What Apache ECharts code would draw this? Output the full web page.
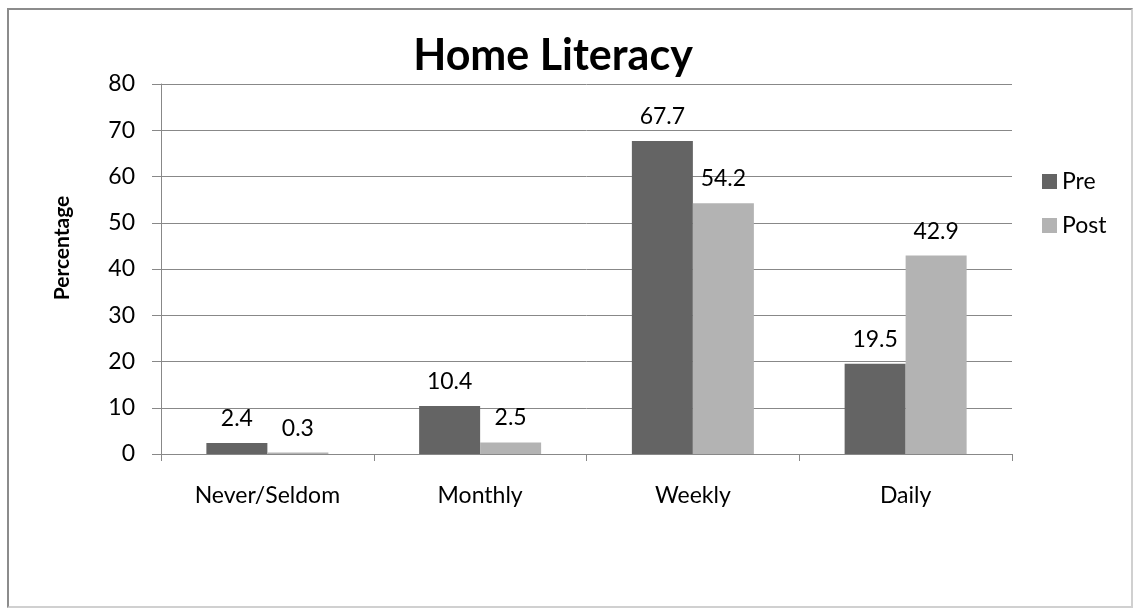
<!DOCTYPE html>
<html>
<head>
<meta charset="utf-8">
<script src="https://cdn.jsdelivr.net/npm/echarts@6/dist/echarts.min.js"></script>
<style>
  html, body { margin: 0; padding: 0; background: #fff; }
  #frame { position: absolute; left: 7px; top: 8px; width: 1122px; height: 596px; border: 2px solid #8c8c8c; border-right-color: #d0d0d0; border-bottom-color: #d0d0d0; }
  #chart { position: absolute; left: 0; top: 0; width: 1133px; height: 608px; }
</style>
</head>
<body>
<div id="frame"></div>
<div id="chart"></div>
<script>
// 数据
const categories = ['Never/Seldom', 'Monthly', 'Weekly', 'Daily'];
const preValues = [2.4, 10.4, 67.7, 19.5];
const postValues = [0.3, 2.5, 54.2, 42.9];
const yTicks = [0, 80, 10]; // min, max, interval

const chart = echarts.init(document.getElementById('chart'));
const font = 'Lato, "Open Sans", sans-serif';
const labelStyle = { show: true, position: 'top', distance: 13, color: '#000', fontSize: 23, fontFamily: font };

chart.setOption({
  animation: false,
  title: {
    text: 'Home Literacy',
    left: 548, top: 30, textAlign: 'center',
    textStyle: { fontSize: 43, fontWeight: 'bold', color: '#000', fontFamily: font }
  },
  legend: {
    orient: 'vertical',
    left: 1037, top: 165,
    itemWidth: 15, itemHeight: 15, itemGap: 21,
    icon: 'rect',
    textStyle: { fontSize: 23, color: '#000', fontFamily: font }
  },
  grid: { left: 161, right: 121, top: 84, bottom: 154, containLabel: false },
  xAxis: {
    type: 'category',
    data: categories,
    axisLine: { lineStyle: { color: '#888', width: 1 } },
    axisTick: { show: true, length: 7, lineStyle: { color: '#888' } },
    axisLabel: { margin: 30, fontSize: 23, color: '#000', fontFamily: font }
  },
  yAxis: {
    type: 'value',
    min: yTicks[0], max: yTicks[1], interval: yTicks[2],
    axisLine: { show: true, lineStyle: { color: '#888', width: 1 } },
    axisTick: { show: true, length: 9, lineStyle: { color: '#888' } },
    axisLabel: { margin: 26, fontSize: 23, color: '#000', fontFamily: font },
    splitLine: { lineStyle: { color: '#888', width: 1 } }
  },
  graphic: [{
    type: 'text',
    x: 62, y: 248,
    rotation: Math.PI / 2,
    style: { text: 'Percentage', align: 'center', verticalAlign: 'middle', fill: '#000', font: 'bold 21px Lato, "Open Sans", sans-serif' }
  }],
  series: [
    { name: 'Pre', type: 'bar', data: preValues, barWidth: 61, barGap: '0%', itemStyle: { color: '#646464' }, label: labelStyle },
    { name: 'Post', type: 'bar', data: postValues, barWidth: 61, barGap: '0%', itemStyle: { color: '#b3b3b3' }, label: labelStyle }
  ]
});
</script>
</body>
</html>
